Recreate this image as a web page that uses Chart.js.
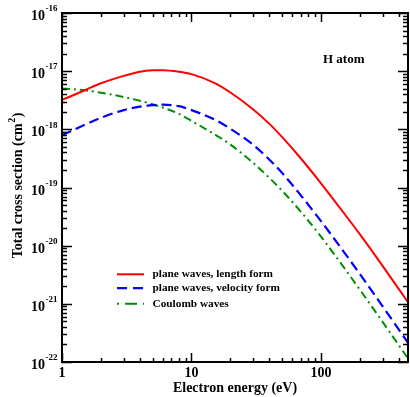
<!DOCTYPE html>
<html>
<head>
<meta charset="utf-8">
<script src="https://cdn.jsdelivr.net/npm/chart.js@4.4.1/dist/chart.umd.min.js"></script>
<style>
  html, body { margin: 0; padding: 0; background: #fff; }
</style>
</head>
<body>
<canvas id="crossSection" width="410" height="397"></canvas>
<script>
// electron energy (eV)
const energies = [1, 1.5, 2, 3, 4, 5, 6, 8, 10, 15, 20, 30, 40, 50, 70, 100, 150, 200, 300, 470];
// total cross sections (cm^2)
const lengthForm = [3.2e-18, 4.7e-18, 6.2e-18, 8.3e-18, 9.8e-18, 1.035e-17, 1.04e-17, 9.8e-18, 8.9e-18, 6.3e-18,
  4.3e-18, 2.2e-18, 1.24e-18, 7.4e-19, 3.15e-19, 1.18e-19, 3.65e-20, 1.56e-20, 4.45e-21, 1.07e-21];
const velocityForm = [7.9e-19, 1.2e-18, 1.58e-18, 2.14e-18, 2.45e-18, 2.6e-18, 2.66e-18, 2.5e-18, 2.14e-18, 1.48e-18,
  1.02e-18, 5.4e-19, 3.0e-19, 1.79e-19, 7.3e-20, 2.65e-20, 7.85e-21, 3.24e-21, 9.0e-22, 2.14e-22];
const coulombWaves = [5.05e-18, 4.68e-18, 4.27e-18, 3.59e-18, 3.09e-18, 2.7e-18, 2.37e-18, 1.84e-18, 1.4e-18, 8.25e-19,
  5.47e-19, 2.64e-19, 1.46e-19, 8.85e-20, 3.82e-20, 1.43e-20, 4.25e-21, 1.74e-21, 4.85e-22, 1.15e-22];

const seriesLabels = ['plane waves, length form', 'plane waves, velocity form', 'Coulomb waves'];
const xTickValues = [1, 10, 100];
const yExponents = [-16, -17, -18, -19, -20, -21, -22];

const serif = '"Liberation Serif", "Times New Roman", serif';

function points(values) {
  return energies.map((e, i) => ({ x: e, y: values[i] }));
}

// box with inward ticks on all four sides, tick labels, titles and legend
const framePlugin = {
  id: 'frame',
  afterDraw(chart) {
    const { ctx, chartArea: a, scales } = chart;
    const xs = scales.x, ys = scales.y;
    ctx.save();
    ctx.strokeStyle = '#000';
    ctx.fillStyle = '#000';

    // y ticks
    ctx.lineWidth = 1.5;
    for (let p = -22; p <= -16; p++) {
      for (let m = 1; m <= 9; m++) {
        const v = m * Math.pow(10, p);
        if (v > 1.0001e-16) break;
        const py = Math.round(ys.getPixelForValue(v)) + 0.5;
        const len = m === 1 ? 10 : 5;
        ctx.beginPath();
        ctx.moveTo(a.left, py); ctx.lineTo(a.left + len, py);
        ctx.moveTo(a.right, py); ctx.lineTo(a.right - len, py);
        ctx.stroke();
      }
    }
    // x ticks
    for (let d = 1; d <= 100; d *= 10) {
      for (let m = 1; m <= 9; m++) {
        const v = m * d;
        if (v > xs.max) break;
        const px = Math.round(xs.getPixelForValue(v)) + 0.5;
        const len = m === 1 ? 9 : 4;
        ctx.beginPath();
        ctx.moveTo(px, a.bottom); ctx.lineTo(px, a.bottom - len);
        ctx.moveTo(px, a.top); ctx.lineTo(px, a.top + len);
        ctx.stroke();
      }
    }
    ctx.lineWidth = 2;
    ctx.strokeRect(a.left, a.top, a.right - a.left, a.bottom - a.top);

    // y tick labels 10^n
    ctx.textBaseline = 'middle';
    yExponents.forEach(p => {
      const py = ys.getPixelForValue(Math.pow(10, p));
      ctx.font = 'bold 14px ' + serif;
      ctx.textAlign = 'right';
      ctx.fillText('10', 45, py + 3.5);
      ctx.font = 'bold 9px ' + serif;
      ctx.textAlign = 'left';
      ctx.fillText(String(p), 45.5, py - 4);
    });

    // x tick labels
    ctx.font = 'bold 14px ' + serif;
    ctx.textAlign = 'center';
    xTickValues.forEach(v => {
      ctx.fillText(String(v), xs.getPixelForValue(v), a.bottom + 11);
    });

    // axis titles
    ctx.fillText('Electron energy (eV)', (a.left + a.right) / 2, 388);

    ctx.save();
    ctx.translate(18, 186);
    ctx.rotate(-Math.PI / 2);
    const main = 'Total cross section (cm';
    ctx.font = 'bold 14px ' + serif;
    const wMain = ctx.measureText(main).width;
    const wParen = ctx.measureText(')').width;
    ctx.font = 'bold 10px ' + serif;
    const wSup = ctx.measureText('2').width;
    let x0 = -(wMain + wSup + wParen) / 2;
    ctx.textAlign = 'left';
    ctx.font = 'bold 14px ' + serif;
    ctx.fillText(main, x0, 0);
    ctx.font = 'bold 10px ' + serif;
    ctx.fillText('2', x0 + wMain + 0.5, -6);
    ctx.font = 'bold 14px ' + serif;
    ctx.fillText(')', x0 + wMain + wSup + 1, 0);
    ctx.restore();

    // annotation
    ctx.font = 'bold 13px ' + serif;
    ctx.textAlign = 'left';
    ctx.fillText('H atom', 323, 60);

    // legend
    const rows = [274.3, 288.2, 303.8];
    chart.data.datasets.forEach((ds, i) => {
      const y = rows[i];
      ctx.strokeStyle = ds.borderColor;
      ctx.lineWidth = ds.borderWidth;
      ctx.setLineDash(ds.legendDash);
      ctx.beginPath();
      ctx.moveTo(117, y); ctx.lineTo(144, y);
      ctx.stroke();
      ctx.setLineDash([]);
      ctx.fillStyle = '#000';
      ctx.font = 'bold 11.3px ' + serif;
      ctx.fillText(ds.label, 152.5, y);
    });
    ctx.restore();
  }
};

new Chart(document.getElementById('crossSection'), {
  type: 'line',
  data: {
    datasets: [{
      label: seriesLabels[0],
      data: points(lengthForm),
      borderColor: '#ff0000',
      borderWidth: 2,
      legendDash: [],
      pointRadius: 0,
      cubicInterpolationMode: 'monotone'
    }, {
      label: seriesLabels[1],
      data: points(velocityForm),
      borderColor: '#0000ff',
      borderWidth: 2.2,
      borderDash: [10, 5],
      legendDash: [10, 6],
      pointRadius: 0,
      cubicInterpolationMode: 'monotone'
    }, {
      label: seriesLabels[2],
      data: points(coulombWaves),
      borderColor: '#008f00',
      borderWidth: 2,
      borderDash: [8, 4, 2, 4],
      legendDash: [2, 6, 12, 6, 2, 20],
      pointRadius: 0,
      cubicInterpolationMode: 'monotone'
    }]
  },
  options: {
    responsive: false,
    animation: false,
    devicePixelRatio: 1,
    layout: { padding: { left: 62, right: 2, top: 13, bottom: 35 } },
    scales: {
      x: { type: 'logarithmic', min: 1, max: 470, display: false },
      y: { type: 'logarithmic', min: 1e-22, max: 1e-16, display: false }
    },
    plugins: {
      legend: { display: false },
      tooltip: { enabled: false }
    }
  },
  plugins: [framePlugin]
});
</script>
</body>
</html>
